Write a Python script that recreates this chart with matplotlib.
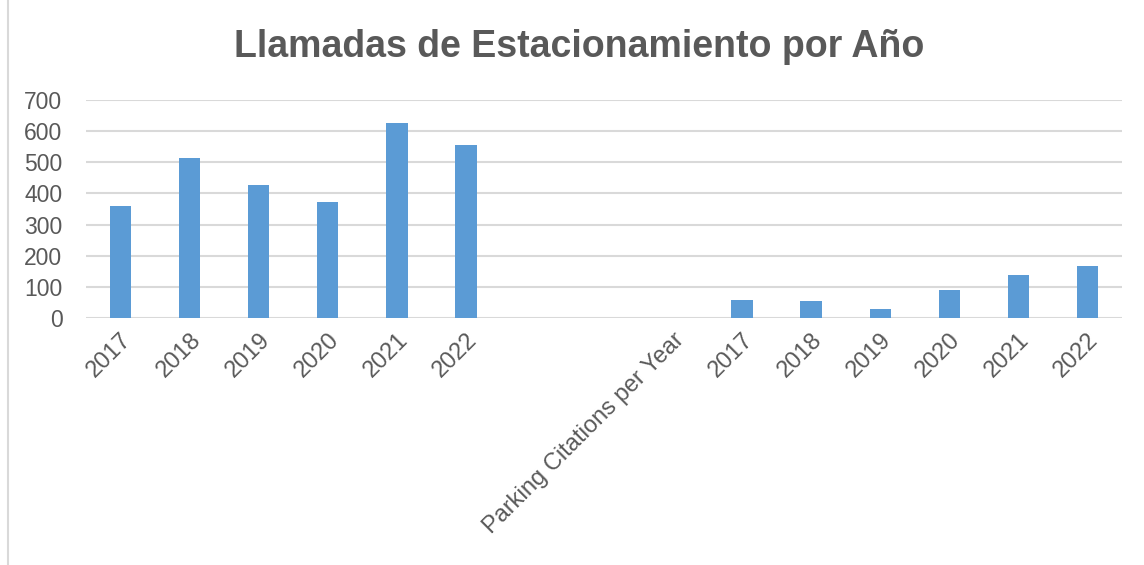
import numpy as np
import matplotlib
matplotlib.use("Agg")
import matplotlib.pyplot as plt
from matplotlib.lines import Line2D

categories = ["2017", "2018", "2019", "2020", "2021", "2022", "", "",
              "Parking Citations per Year",
              "2017", "2018", "2019", "2020", "2021", "2022"]
values = [360, 514, 427, 371, 625, 556, np.nan, np.nan, np.nan,
          59, 53, 30, 90, 138, 166]
yticks = [0, 100, 200, 300, 400, 500, 600, 700]
title = "Llamadas de Estacionamiento por Año"

plt.rcParams['font.family'] = ['Liberation Sans', 'DejaVu Sans']
txt_color = "#595959"
grid_color = "#d9d9d9"
bar_color = "#5B9BD5"

fig = plt.figure(figsize=(11.44, 5.65), dpi=100)
W, H = 1144, 565
ax = fig.add_axes([86 / W, 1 - 318 / H, (1122 - 86) / W, (318 - 100) / H])

x = np.arange(len(categories))
ax.bar(x, values, width=0.31, color=bar_color, zorder=3)
ax.set_xlim(-0.5, len(categories) - 0.5)
ax.set_ylim(0, 700)
ax.set_yticks(yticks)
ax.set_yticklabels([str(v) for v in yticks])
ax.set_xticks(x)
ax.set_xticklabels(categories, rotation=45, ha='right', rotation_mode='anchor')
ax.tick_params(axis='both', length=0, colors=txt_color)
ax.tick_params(axis='y', pad=17, labelsize=16.5)
ax.tick_params(axis='x', pad=8, labelsize=17)
for s in ax.spines.values():
    s.set_visible(False)
ax.yaxis.grid(True, color=grid_color, linewidth=1.5, zorder=0)
ax.set_axisbelow(True)

fig.text(579 / W, 1 - 47 / H, title, ha='center', va='center',
         fontsize=27, fontweight='bold', color=txt_color)

fig.add_artist(Line2D([8 / W, 8 / W], [0, 1], transform=fig.transFigure,
                      color=grid_color, linewidth=1.5))

fig.savefig("out.png", dpi=100, facecolor="white")
